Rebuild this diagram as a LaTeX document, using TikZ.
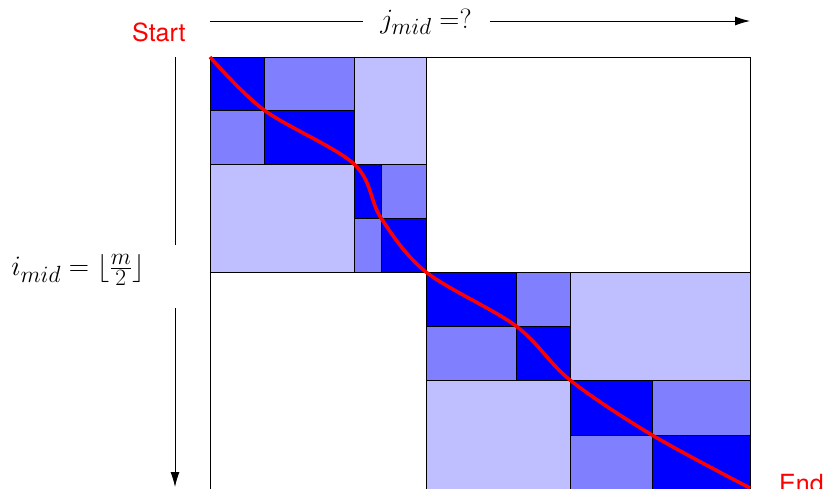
\documentclass[tikz,border=0pt]{standalone}
\usepackage{fontspec}
\newfontfamily\heros{TeX Gyre Heros}
\usepackage{tikz}
\usetikzlibrary{arrows.meta, positioning}
\tikzset{
  darkblk/.style={draw=black, fill=blue, line width=0.9pt},
  midblk/.style={draw=black, fill=blue!50, line width=0.9pt},
  lightblk/.style={draw=black, fill=blue!25, line width=0.9pt},
  frame/.style={draw=black, line width=0.9pt},
  redpath/.style={draw=red, line width=3.5pt},
  redlbl/.style={text=red, inner sep=0pt, font=\heros\fontsize{25}{30}\selectfont},
  mathlbl/.style={inner sep=0pt, font=\Huge},
  axis/.style={line width=0.9pt},
  axisarrow/.style={line width=0.9pt, -{Latex[length=15pt,width=9pt]}},
}

\begin{document}
\begin{tikzpicture}[x=1pt, y=-1pt]
  \useasboundingbox (0,0) rectangle (824,488);

  % whole table
  \draw[frame] (210,57) rectangle (750,490);

  % upper left half
  \draw[lightblk] (354,57) rectangle (426,164);
  \draw[lightblk] (210,164) rectangle (354,272);
  \draw[darkblk]  (210,57) rectangle (264,110);
  \draw[midblk]   (264,57) rectangle (354,110);
  \draw[midblk]   (210,110) rectangle (264,164);
  \draw[darkblk]  (264,110) rectangle (354,164);
  \draw[darkblk]  (354,164) rectangle (381,218);
  \draw[midblk]   (381,164) rectangle (426,218);
  \draw[midblk]   (354,218) rectangle (381,272);
  \draw[darkblk]  (381,218) rectangle (426,272);

  % lower right half
  \draw[lightblk] (570,272) rectangle (750,380);
  \draw[lightblk] (426,380) rectangle (570,490);
  \draw[darkblk]  (426,272) rectangle (516,326);
  \draw[midblk]   (516,272) rectangle (570,326);
  \draw[midblk]   (426,326) rectangle (516,380);
  \draw[darkblk]  (516,326) rectangle (570,380);
  \draw[darkblk]  (570,380) rectangle (652,435);
  \draw[midblk]   (652,380) rectangle (750,435);
  \draw[midblk]   (570,435) rectangle (652,490);
  \draw[darkblk]  (652,435) rectangle (750,490);

  % alignment path
  \coordinate (p0) at (210,57);
  \coordinate (p1) at (264,110);
  \coordinate (p2) at (354,164);
  \coordinate (p3) at (381,218);
  \coordinate (p4) at (426,272);
  \coordinate (p5) at (516,326);
  \coordinate (p6) at (570,380);
  \coordinate (p7) at (652,435);
  \coordinate (p8) at (750,488);
  \draw[redpath] plot[smooth, tension=0.55] coordinates {(p0) (p1) (p2) (p3) (p4) (p5) (p6) (p7) (p8)};

  \node (start) [redlbl, anchor=base west] at (132,41) {Start};
  \node (end)   [redlbl, anchor=base west] at (779,492) {End};

  % column axis
  \coordinate (jl) at (210,21);
  \coordinate (jgl) at (363,21);
  \coordinate (jgr) at (490,21);
  \coordinate (jr) at (750,21);
  \node (jmid) [mathlbl, scale=1.12] at (426,22) {$j_{mid} =?$};
  \draw[axis] (jl) -- (jgl);
  \draw[axisarrow] (jgr) -- (jr);

  % row axis
  \coordinate (it) at (175,57);
  \coordinate (igt) at (175,245);
  \coordinate (igb) at (175,308);
  \coordinate (ib) at (175,487);
  \node (imid) [mathlbl, scale=1.13] at (78,270) {$i_{mid} = \lfloor \frac{m}{2} \rfloor$};
  \draw[axis] (it) -- (igt);
  \draw[axisarrow] (igb) -- (ib);
\end{tikzpicture}
\end{document}
